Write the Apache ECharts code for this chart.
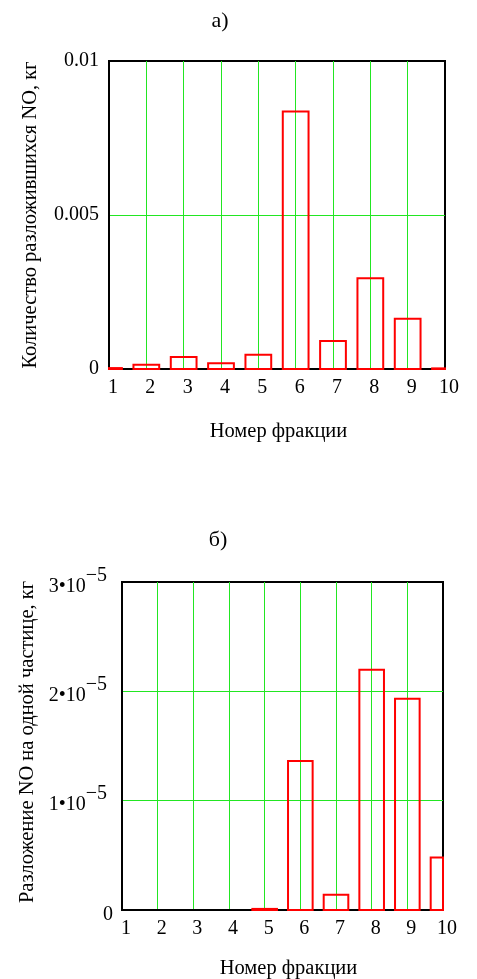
<!DOCTYPE html>
<html><head><meta charset="utf-8">
<script src="https://cdn.jsdelivr.net/npm/echarts@6/dist/echarts.min.js"></script>
<style>html,body{margin:0;padding:0;background:#fff}#c{width:477px;height:979px}</style>
</head><body><div id="c"></div>
<script>
// ---- data ----
const fractions = [1, 2, 3, 4, 5, 6, 7, 8, 9, 10];
const decomposedTotal = [0.00003, 0.00014, 0.00039, 0.00019, 0.00046, 0.00836, 0.00091, 0.00295, 0.00163, 0.00002];
const decomposedPerParticle = [0, 0, 0, 0, 0.01e-5, 1.363e-5, 0.14e-5, 2.198e-5, 1.932e-5, 0.48e-5];
const xTickLabels = ['1', '2', '3', '4', '5', '6', '7', '8', '9', '10'];
const yTickLabelsA = ['0', '0.005', '0.01'];
const yTickBaseB = ['0', '1•10', '2•10', '3•10'];
const yTickExpB = ['', '−5', '−5', '−5'];
const titleA = 'а)';
const titleB = 'б)';
const xName = 'Номер фракции';
const yNameA = 'Количество разложившихся NO, кг';
const yNameB = 'Разложение NO на одной частице, кг';

const FONT = 'Liberation Serif';
const GREEN = '#22e622';
const RED = '#ff0000';
const HALF = 0.345;

function renderBar(params, api) {
  const x = api.value(0), y = api.value(1);
  if (!y) return;
  const p0 = api.coord([x - HALF, y]);
  const p1 = api.coord([x + HALF, 0]);
  const cs = params.coordSys;
  const rect = echarts.graphic.clipRectByRect(
    {x: p0[0], y: p0[1], width: p1[0] - p0[0], height: p1[1] - p0[1]},
    {x: cs.x, y: cs.y, width: cs.width, height: cs.height});
  if (!rect) return;
  return {type: 'rect', shape: rect, style: {fill: 'none', stroke: RED, lineWidth: 2}};
}

const splitLineCfg = {show: true, showMinLine: false, showMaxLine: false, lineStyle: {color: GREEN, width: 1}};

function xAxisCfg(gi, gap, namePad) {
  return {
    type: 'value', gridIndex: gi, min: 1, max: 10, interval: 1,
    axisLine: {show: true, lineStyle: {color: '#000', width: 2}},
    axisTick: {show: false},
    splitLine: splitLineCfg,
    axisLabel: {
      fontFamily: FONT, fontSize: 20, color: '#000', margin: 9, padding: [0, 0, 0, 8],
      formatter: v => xTickLabels[Math.round(v) - 1]
    },
    name: xName, nameLocation: 'middle', nameGap: gap,
    nameTextStyle: {fontFamily: FONT, fontSize: 20.5, color: '#000', padding: namePad}
  };
}

const titleStyle = {fontFamily: FONT, fontSize: 22, fontWeight: 'normal', color: '#000'};

const option = {
  animation: false,
  backgroundColor: '#fff',
  title: [
    {text: titleA, left: 220, top: 10, padding: 0, textAlign: 'center', textStyle: titleStyle},
    {text: titleB, left: 218, top: 529, padding: 0, textAlign: 'center', textStyle: titleStyle}
  ],
  grid: [
    {left: 109, top: 61, width: 336, height: 308, show: true, borderColor: '#000', borderWidth: 2, backgroundColor: 'transparent', outerBoundsMode: 'none'},
    {left: 122, top: 582, width: 321, height: 328, show: true, borderColor: '#000', borderWidth: 2, backgroundColor: 'transparent', outerBoundsMode: 'none'}
  ],
  xAxis: [xAxisCfg(0, 52, [0, 0, 0, 3]), xAxisCfg(1, 48, [0, 0, 0, 12])],
  yAxis: [
    {
      type: 'value', gridIndex: 0, min: 0, max: 0.01, interval: 0.005,
      axisLine: {show: true, lineStyle: {color: '#000', width: 2}},
      axisTick: {show: false},
      splitLine: splitLineCfg,
      axisLabel: {
        fontFamily: FONT, fontSize: 20, color: '#000', margin: 10, padding: [8, 0, 0, 0],
        formatter: v => yTickLabelsA[Math.round(v / 0.005)]
      },
      name: yNameA, nameLocation: 'middle', nameGap: 68,
      nameTextStyle: {fontFamily: FONT, fontSize: 20.5, color: '#000'}
    },
    {
      type: 'value', gridIndex: 1, min: 0, max: 3e-5, interval: 1e-5,
      axisLine: {show: true, lineStyle: {color: '#000', width: 2}},
      axisTick: {show: false},
      splitLine: splitLineCfg,
      axisLabel: {
        fontFamily: FONT, fontSize: 20, color: '#000', margin: 9, padding: [9, 0, 0, 0],
        formatter: v => {
          const i = Math.round(v / 1e-5);
          return yTickExpB[i] ? '{n|' + yTickBaseB[i] + '}{s|' + yTickExpB[i] + '}' : '{n|' + yTickBaseB[i] + '}';
        },
        rich: {
          n: {fontFamily: FONT, fontSize: 20, color: '#000'},
          s: {fontFamily: FONT, fontSize: 20, color: '#000', padding: [0, 6, 22, 0]}
        }
      },
      name: yNameB, nameLocation: 'middle', nameGap: 84,
      nameTextStyle: {fontFamily: FONT, fontSize: 20.5, color: '#000', padding: [0, 0, 0, 8]}
    }
  ],
  series: [
    {type: 'custom', xAxisIndex: 0, yAxisIndex: 0, renderItem: renderBar,
     data: fractions.map((f, i) => [f, decomposedTotal[i]])},
    {type: 'custom', xAxisIndex: 1, yAxisIndex: 1, renderItem: renderBar,
     data: fractions.map((f, i) => [f, decomposedPerParticle[i]])}
  ]
};
const chart = echarts.init(document.getElementById('c'), null, {renderer: 'canvas'});
chart.setOption(option);
</script></body></html>
